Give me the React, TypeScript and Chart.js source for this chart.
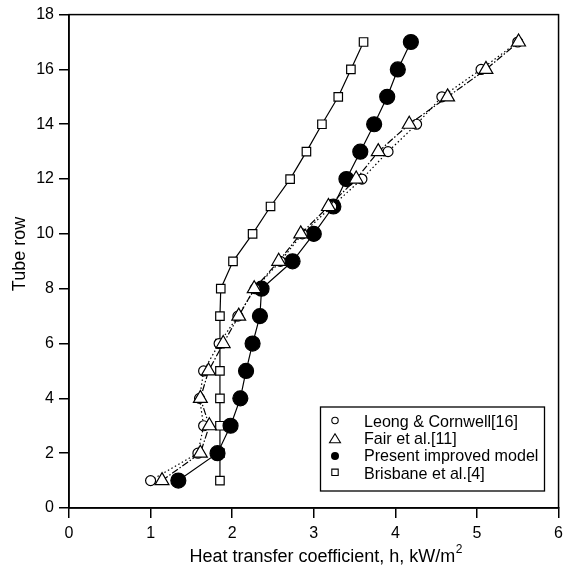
import React, { useEffect, useRef } from 'react';
import { Chart, registerables } from 'chart.js';

Chart.register(...registerables);

const tubeRows = [1, 2, 3, 4, 5, 6, 7, 8, 9, 10, 11, 12, 13, 14, 15, 16, 17];
const leongCornwell = [1.0, 1.58, 1.65, 1.6, 1.65, 1.84, 2.07, 2.28, 2.59, 2.86, 3.22, 3.59, 3.91, 4.26, 4.57, 5.05, 5.5];
const fairEtAl = [1.14, 1.61, 1.72, 1.61, 1.71, 1.89, 2.08, 2.27, 2.57, 2.84, 3.18, 3.52, 3.79, 4.17, 4.64, 5.11, 5.51];
const presentModel = [1.34, 1.82, 1.98, 2.1, 2.17, 2.25, 2.34, 2.36, 2.74, 3.0, 3.24, 3.4, 3.57, 3.74, 3.9, 4.03, 4.19];
const brisbaneEtAl = [1.85, 1.85, 1.85, 1.85, 1.85, 1.85, 1.85, 1.86, 2.01, 2.25, 2.47, 2.71, 2.91, 3.1, 3.3, 3.455, 3.61];

const seriesLabels = ['Leong & Cornwell[16]', 'Fair et al.[11]', 'Present improved model', 'Brisbane et al.[4]'];
const xTitleMain = 'Heat transfer coefficient, h, kW/m';
const xTitleSup = '2';
const yTitle = 'Tube row';

const FONT = '"Liberation Sans", Arial, Helvetica, sans-serif';

const toPoints = (xs: number[]) => xs.map((x, i) => ({ x, y: tubeRows[i] }));

const framePlugin = {
  id: 'frame',
  beforeDatasetsDraw(chart: any) {
    const { ctx, chartArea } = chart;
    ctx.save();
    ctx.strokeStyle = '#000';
    ctx.lineWidth = 1.5;
    ctx.strokeRect(chartArea.left, chartArea.top, chartArea.right - chartArea.left, chartArea.bottom - chartArea.top);
    ctx.restore();
  },
};

const titlesPlugin = {
  id: 'axisTitles',
  afterDraw(chart: any) {
    const { ctx } = chart;
    ctx.save();
    ctx.fillStyle = '#000';
    ctx.textBaseline = 'middle';
    ctx.font = `18px ${FONT}`;
    const mainW = ctx.measureText(xTitleMain).width;
    ctx.font = `12px ${FONT}`;
    const supW = ctx.measureText(xTitleSup).width;
    const total = mainW + supW + 0.5;
    const cx = 326;
    const startX = cx - total / 2;
    ctx.textAlign = 'left';
    ctx.font = `18px ${FONT}`;
    ctx.fillText(xTitleMain, startX, 557);
    ctx.font = `12px ${FONT}`;
    ctx.fillText(xTitleSup, startX + mainW + 0.5, 550);
    ctx.translate(20, 254);
    ctx.rotate(-Math.PI / 2);
    ctx.textAlign = 'center';
    ctx.font = `18px ${FONT}`;
    ctx.fillText(yTitle, 0, 0);
    ctx.restore();
  },
};

const legendPlugin = {
  id: 'boxLegend',
  afterDraw(chart: any) {
    const { ctx } = chart;
    const bx = 320.5, by = 407, bw = 224, bh = 84;
    ctx.save();
    ctx.fillStyle = '#fff';
    ctx.fillRect(bx, by, bw, bh);
    ctx.strokeStyle = '#000';
    ctx.lineWidth = 1.3;
    ctx.strokeRect(bx, by, bw, bh);
    const rowsY = [422.5, 439.7, 456.9, 474.1];
    const mx = 335;
    ctx.font = `16.1px ${FONT}`;
    ctx.textBaseline = 'middle';
    ctx.textAlign = 'left';
    seriesLabels.forEach((label, i) => {
      const y = rowsY[i];
      ctx.lineWidth = 1.1;
      ctx.strokeStyle = '#000';
      ctx.fillStyle = '#fff';
      ctx.beginPath();
      if (i === 0) {
        ctx.arc(mx, y - 2, 3.2, 0, Math.PI * 2);
        ctx.fill();
        ctx.stroke();
      } else if (i === 1) {
        ctx.moveTo(mx, y - 6);
        ctx.lineTo(mx + 5.5, y + 3);
        ctx.lineTo(mx - 5.5, y + 3);
        ctx.closePath();
        ctx.fill();
        ctx.stroke();
      } else if (i === 2) {
        ctx.fillStyle = '#000';
        ctx.arc(mx, y - 1, 4, 0, Math.PI * 2);
        ctx.fill();
      } else {
        ctx.rect(mx - 3.2, y - 5, 6.4, 6.4);
        ctx.fill();
        ctx.stroke();
      }
      ctx.fillStyle = '#000';
      ctx.fillText(label, 364, y);
    });
    ctx.restore();
  },
};

export default function App() {
  const canvasRef = useRef<HTMLCanvasElement | null>(null);

  useEffect(() => {
    if (!canvasRef.current) return;
    const common = {
      borderColor: '#000',
      borderWidth: 1.2,
      showLine: true,
      pointBorderColor: '#000',
      pointBorderWidth: 1.2,
    };
    const chart = new Chart(canvasRef.current, {
      type: 'scatter',
      data: {
        datasets: [
          {
            ...common,
            label: seriesLabels[0],
            data: toPoints(leongCornwell),
            borderDash: [1.5, 2.5],
            pointStyle: 'circle',
            pointRadius: 5,
            pointBackgroundColor: '#fff',
            order: 1,
          },
          {
            ...common,
            label: seriesLabels[1],
            data: toPoints(fairEtAl),
            borderDash: [7, 2, 1.5, 2],
            pointStyle: 'triangle',
            pointRadius: 8,
            pointBackgroundColor: '#fff',
            order: 0,
          },
          {
            ...common,
            label: seriesLabels[2],
            data: toPoints(presentModel),
            pointStyle: 'circle',
            pointRadius: 7.5,
            pointBackgroundColor: '#000',
            order: 2,
          },
          {
            ...common,
            label: seriesLabels[3],
            data: toPoints(brisbaneEtAl),
            pointStyle: 'rect',
            pointRadius: 6,
            pointBackgroundColor: '#fff',
            order: 3,
          },
        ],
      },
      options: {
        animation: false,
        responsive: false,
        layout: { padding: { top: 14, right: 7, left: 0, bottom: 0 } },
        plugins: {
          legend: { display: false },
          tooltip: { enabled: false },
        },
        scales: {
          x: {
            type: 'linear',
            min: 0,
            max: 6,
            afterFit: (s: any) => { s.height = 59; },
            border: { display: true, color: '#000', width: 1.5 },
            grid: { drawOnChartArea: false, drawTicks: true, tickLength: 10, color: '#000', lineWidth: 1.5 },
            ticks: { stepSize: 1, color: '#000', padding: 6, font: { family: FONT, size: 16 } },
            title: { display: false },
          },
          y: {
            type: 'linear',
            min: 0,
            max: 18,
            afterFit: (s: any) => { s.width = 69; },
            border: { display: true, color: '#000', width: 1.5 },
            grid: { drawOnChartArea: false, drawTicks: true, tickLength: 10, color: '#000', lineWidth: 1.5 },
            ticks: { stepSize: 2, color: '#000', padding: 5, font: { family: FONT, size: 16 } },
            title: { display: false },
          },
        },
      },
      plugins: [framePlugin, titlesPlugin, legendPlugin],
    });
    return () => chart.destroy();
  }, []);

  return (
    <div style={{ position: 'absolute', left: 0, top: 0, width: 569, height: 567, background: '#fff' }}>
      <canvas ref={canvasRef} width={569} height={567} style={{ display: 'block' }} />
    </div>
  );
}
